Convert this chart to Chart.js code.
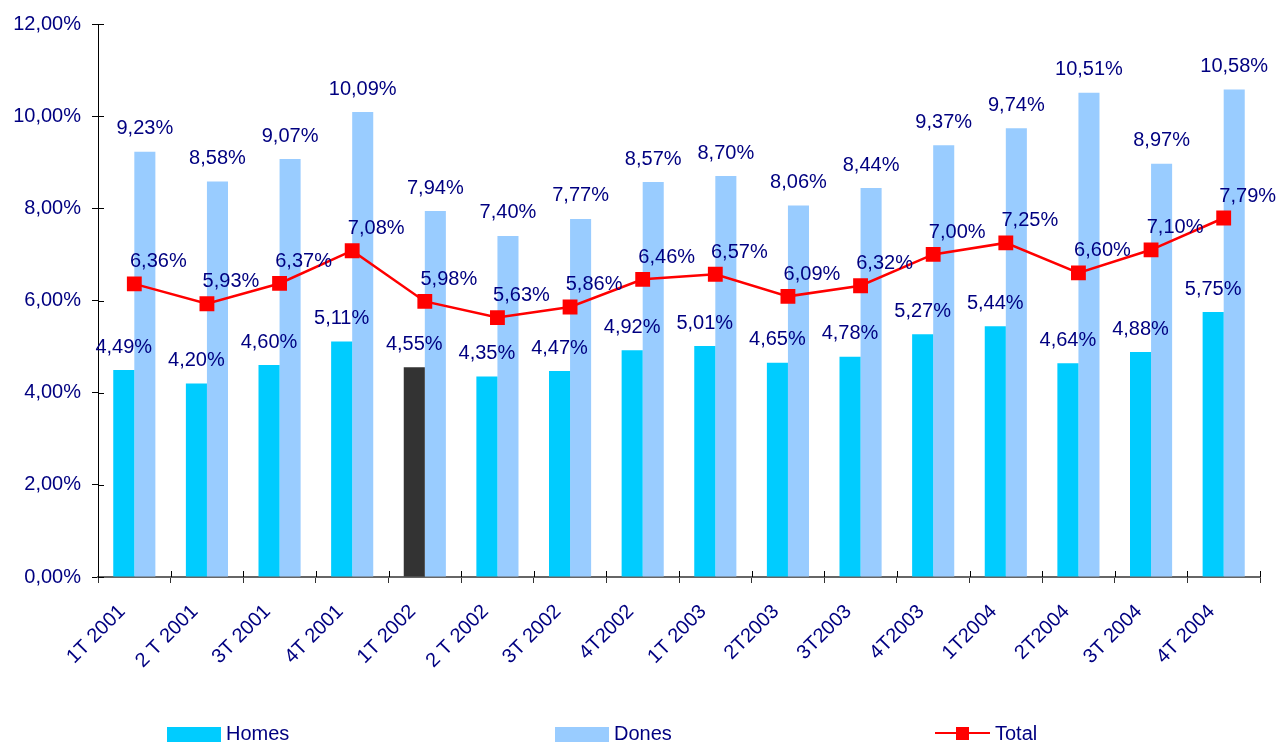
<!DOCTYPE html>
<html>
<head>
<meta charset="utf-8">
<script src="https://cdn.jsdelivr.net/npm/chart.js"></script>
<style>
  html, body { margin: 0; padding: 0; background: #ffffff; }
  #wrap { width: 1282px; height: 742px; }
</style>
</head>
<body>
<div id="wrap"><canvas id="c" width="1282" height="742"></canvas></div>
<script>
const categories = ["1T 2001","2 T 2001","3T 2001","4T 2001","1T 2002","2 T 2002","3T 2002","4T2002","1T 2003","2T2003","3T2003","4T2003","1T2004","2T2004","3T 2004","4T 2004"];
const homes = [4.49, 4.20, 4.60, 5.11, 4.55, 4.35, 4.47, 4.92, 5.01, 4.65, 4.78, 5.27, 5.44, 4.64, 4.88, 5.75];
const dones = [9.23, 8.58, 9.07, 10.09, 7.94, 7.40, 7.77, 8.57, 8.70, 8.06, 8.44, 9.37, 9.74, 10.51, 8.97, 10.58];
const total = [6.36, 5.93, 6.37, 7.08, 5.98, 5.63, 5.86, 6.46, 6.57, 6.09, 6.32, 7.00, 7.25, 6.60, 7.10, 7.79];
const yTicks = [0, 2, 4, 6, 8, 10, 12];
const highlightIndex = 4;

const TEXT = '#000080';
const FONT = '"Liberation Sans", Arial, sans-serif';
const FS = 20;
const fmt = v => v.toFixed(2).replace('.', ',') + '%';

const labelsPlugin = {
  id: 'valueLabels',
  afterDatasetsDraw(chart) {
    const ctx = chart.ctx;
    ctx.save();
    ctx.font = FS + 'px ' + FONT;
    ctx.fillStyle = TEXT;
    ctx.textAlign = 'center';
    ctx.textBaseline = 'middle';
    chart.data.datasets.forEach((ds, di) => {
      const meta = chart.getDatasetMeta(di);
      meta.data.forEach((el, i) => {
        const v = ds.data[i];
        if (ds.type === 'line') {
          ctx.fillText(fmt(v), el.x + 24, el.y - 22);
        } else {
          ctx.fillText(fmt(v), el.x, el.y - 23);
        }
      });
    });
    ctx.restore();
  }
};

const axisTicksPlugin = {
  id: 'innerTicks',
  afterDatasetsDraw(chart) {
    const ctx = chart.ctx;
    const y = chart.scales.y, x = chart.scales.x;
    ctx.save();
    ctx.strokeStyle = '#000000';
    ctx.lineWidth = 1;
    yTicks.forEach(t => {
      const py = Math.round(y.getPixelForValue(t)) + 0.5;
      ctx.beginPath();
      ctx.moveTo(x.left, py);
      ctx.lineTo(x.left + 6, py);
      ctx.stroke();
    });
    for (let i = 0; i <= categories.length; i++) {
      const px = Math.round(x.left + (x.right - x.left) * i / categories.length) + 0.5;
      ctx.beginPath();
      ctx.moveTo(px, y.bottom);
      ctx.lineTo(px, y.bottom - 6);
      ctx.stroke();
    }
    ctx.restore();
  }
};

const legendPlugin = {
  id: 'customLegend',
  afterDraw(chart) {
    const ctx = chart.ctx;
    const ds = chart.data.datasets;
    ctx.save();
    ctx.font = FS + 'px ' + FONT;
    ctx.textBaseline = 'middle';
    ctx.textAlign = 'left';
    const yMid = 734;
    // Homes
    ctx.fillStyle = '#00CCFF';
    ctx.fillRect(167, 727, 54, 15);
    ctx.fillStyle = TEXT;
    ctx.fillText(ds[1].label, 226, yMid);
    // Dones
    ctx.fillStyle = '#99CCFF';
    ctx.fillRect(555, 727, 54, 15);
    ctx.fillStyle = TEXT;
    ctx.fillText(ds[2].label, 614, yMid);
    // Total
    ctx.strokeStyle = '#FF0000';
    ctx.lineWidth = 2;
    ctx.beginPath();
    ctx.moveTo(935, 733);
    ctx.lineTo(990, 733);
    ctx.stroke();
    ctx.fillStyle = '#FF0000';
    ctx.fillRect(956, 727, 13, 13);
    ctx.fillStyle = TEXT;
    ctx.fillText(ds[0].label, 995, yMid);
    ctx.restore();
  }
};

new Chart(document.getElementById('c'), {
  data: {
    labels: categories,
    datasets: [
      {
        type: 'line',
        label: 'Total',
        data: total,
        borderColor: '#FF0000',
        backgroundColor: '#FF0000',
        borderWidth: 2.5,
        pointStyle: 'rect',
        pointRadius: 10.5,
        pointHoverRadius: 10.5,
        pointBorderWidth: 0,
        tension: 0,
        order: 0
      },
      {
        type: 'bar',
        label: 'Homes',
        data: homes,
        backgroundColor: c => c.dataIndex === highlightIndex ? '#333333' : '#00CCFF',
        borderWidth: 0,
        categoryPercentage: 0.58,
        barPercentage: 1.0,
        order: 1
      },
      {
        type: 'bar',
        label: 'Dones',
        data: dones,
        backgroundColor: '#99CCFF',
        borderWidth: 0,
        categoryPercentage: 0.58,
        barPercentage: 1.0,
        order: 1
      }
    ]
  },
  options: {
    responsive: false,
    animation: false,
    events: [],
    layout: { padding: { top: 24, right: 22, left: 0, bottom: 0 } },
    plugins: {
      legend: { display: false },
      tooltip: { enabled: false }
    },
    scales: {
      x: {
        grid: {
          display: true,
          drawOnChartArea: false,
          drawTicks: true,
          tickLength: 6,
          color: '#333333',
          offset: true
        },
        border: { display: true, color: '#666666', width: 2 },
        ticks: {
          color: TEXT,
          font: { family: FONT, size: FS },
          minRotation: 45,
          maxRotation: 45,
          padding: 17,
          labelOffset: -12,
          autoSkip: false
        },
        afterFit(scale) { scale.height = 165; }
      },
      y: {
        min: 0,
        max: 12,
        grid: {
          display: true,
          drawOnChartArea: false,
          drawTicks: true,
          tickLength: 6,
          color: '#000000'
        },
        border: { display: true, color: '#000000', width: 1 },
        afterBuildTicks(scale) { scale.ticks = yTicks.map(v => ({ value: v })); },
        ticks: {
          color: TEXT,
          font: { family: FONT, size: FS },
          padding: 11,
          callback: v => fmt(v)
        },
        afterFit(scale) { scale.width = 98; }
      }
    }
  },
  plugins: [axisTicksPlugin, labelsPlugin, legendPlugin]
});
</script>
</body>
</html>
